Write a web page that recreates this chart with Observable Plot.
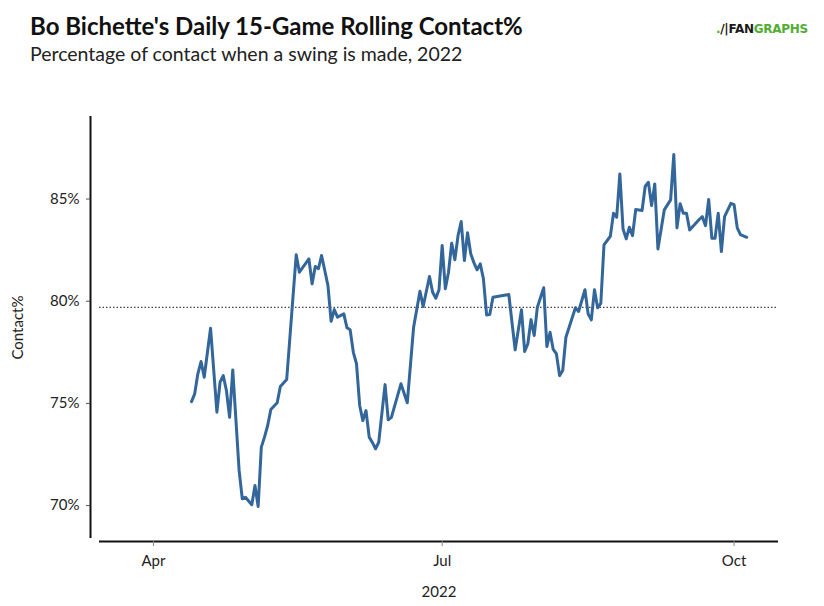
<!DOCTYPE html>
<html>
<head>
<meta charset="utf-8">
<script src="https://cdn.jsdelivr.net/npm/d3@7"></script>
<script src="https://cdn.jsdelivr.net/npm/@observablehq/plot@0.6"></script>
<style>
  body { margin: 0; background: #fff; font-family: Lato, sans-serif; }
  #wrap { position: relative; width: 824px; height: 606px; overflow: hidden; background: #fff; }
  #title { position: absolute; left: 30px; top: 12px; font-size: 24px; font-weight: 700; line-height: 1.2; color: #111; white-space: nowrap; }
  #subtitle { position: absolute; left: 30px; top: 42px; font-size: 19.5px; line-height: 1.2; color: #222; white-space: nowrap; }
  #logo { position: absolute; left: 716px; top: 22px; font-family: "DejaVu Sans", sans-serif; font-size: 12px; font-weight: 700; line-height: 1.2; white-space: nowrap; letter-spacing: -0.3px; }
  #logo .g { color: #52ae32; }
  #logo .k { color: #1a1a1a; }
  #chart { position: absolute; left: 0; top: 80px; }
</style>
</head>
<body>
<div id="wrap">
  <div id="title">Bo Bichette's Daily 15-Game Rolling Contact%</div>
  <div id="subtitle">Percentage of contact when a swing is made, 2022</div>
  <div id="logo"><span class="g">.</span><span class="k">/|</span><span class="k">FAN</span><span class="g">GRAPHS</span></div>
  <div id="chart"></div>
</div>
<script>
const dates = [
  "2022-04-13","2022-04-14","2022-04-15","2022-04-16","2022-04-17","2022-04-19","2022-04-21","2022-04-22","2022-04-23","2022-04-24",
  "2022-04-25","2022-04-26","2022-04-28","2022-04-29","2022-04-30","2022-05-02","2022-05-03","2022-05-04","2022-05-05","2022-05-06",
  "2022-05-07","2022-05-08","2022-05-10","2022-05-11","2022-05-13","2022-05-16","2022-05-17","2022-05-20","2022-05-21","2022-05-22",
  "2022-05-23","2022-05-24","2022-05-26","2022-05-27","2022-05-28","2022-05-29","2022-05-31","2022-06-01","2022-06-02","2022-06-03",
  "2022-06-04","2022-06-05","2022-06-06","2022-06-07","2022-06-08","2022-06-09","2022-06-10","2022-06-11","2022-06-13","2022-06-14",
  "2022-06-15","2022-06-18","2022-06-20","2022-06-22","2022-06-24","2022-06-25","2022-06-27","2022-06-28","2022-06-29","2022-06-30",
  "2022-07-01","2022-07-02","2022-07-03","2022-07-04","2022-07-05","2022-07-06","2022-07-07","2022-07-08","2022-07-09","2022-07-10",
  "2022-07-11","2022-07-12","2022-07-13","2022-07-14","2022-07-15","2022-07-16","2022-07-17","2022-07-22","2022-07-24","2022-07-26",
  "2022-07-27","2022-07-28","2022-07-29","2022-07-30","2022-07-31","2022-08-02","2022-08-03","2022-08-04","2022-08-05","2022-08-06",
  "2022-08-07","2022-08-08","2022-08-09","2022-08-12","2022-08-13","2022-08-15","2022-08-16","2022-08-17","2022-08-18","2022-08-19",
  "2022-08-20","2022-08-21","2022-08-23","2022-08-24","2022-08-25","2022-08-26","2022-08-27","2022-08-28","2022-08-29","2022-08-30",
  "2022-08-31","2022-09-02","2022-09-03","2022-09-04","2022-09-05","2022-09-06","2022-09-07","2022-09-09","2022-09-11","2022-09-12",
  "2022-09-13","2022-09-14","2022-09-15","2022-09-16","2022-09-17","2022-09-20","2022-09-21","2022-09-22","2022-09-23","2022-09-24",
  "2022-09-25","2022-09-26","2022-09-27","2022-09-28","2022-09-30","2022-10-01","2022-10-02","2022-10-03","2022-10-05"
];
const contact = [
  75.09, 75.47, 76.45, 77.05, 76.28, 78.68, 74.57, 76.04, 76.36, 75.63,
  74.32, 76.64, 71.72, 70.33, 70.41, 70.04, 70.98, 69.96, 72.86, 73.35,
  73.92, 74.70, 75.03, 75.83, 76.17, 82.28, 81.42, 82.07, 80.85, 81.70,
  81.59, 82.24, 80.77, 79.02, 79.59, 79.22, 79.38, 78.70, 78.60, 77.50,
  76.94, 74.90, 74.16, 74.65, 73.35, 73.09, 72.78, 73.10, 75.92, 74.20,
  74.32, 75.96, 75.03, 78.73, 80.49, 79.74, 81.21, 80.44, 80.15, 80.56,
  82.73, 80.61, 81.42, 82.84, 82.03, 83.21, 83.90, 81.99, 83.35, 82.32,
  81.89, 81.54, 81.83, 81.10, 79.33, 79.35, 80.20, 80.33, 77.62, 79.58,
  77.54, 77.92, 79.10, 78.32, 79.71, 80.66, 77.78, 78.48, 77.64, 77.43,
  76.36, 76.61, 78.24, 79.68, 79.50, 80.56, 79.38, 79.09, 80.56, 79.68,
  79.90, 82.76, 83.18, 84.31, 84.11, 86.23, 83.54, 83.05, 83.62, 83.21,
  84.49, 84.44, 85.63, 85.82, 84.68, 85.74, 82.56, 84.47, 84.96, 87.18,
  83.59, 84.77, 84.31, 84.31, 83.49, 84.00, 84.14, 83.70, 84.98, 83.08,
  83.08, 84.31, 82.43, 84.14, 84.79, 84.73, 83.59, 83.26, 83.13
];
const seasonAverage = 79.7;
const monthTicks = ["2022-04-01", "2022-07-01", "2022-10-01"];
const monthLabels = ["Apr", "Jul", "Oct"];
const yTicks = [70, 75, 80, 85];
const xDomain = ["2022-03-15", "2022-10-15"];
const yDomain = [68.39, 89.04];

const toDate = s => new Date(s + "T00:00:00Z");
const data = dates.map((d, i) => ({date: toDate(d), value: contact[i]}));
const tickDates = monthTicks.map(toDate);
const x0 = toDate(xDomain[0]);

const chart = Plot.plot({
  width: 824,
  height: 526,
  marginLeft: 99,
  marginRight: 46,
  marginTop: 36,
  marginBottom: 68,
  style: {fontFamily: "Lato, sans-serif", fontSize: "15px", color: "#222", background: "white", overflow: "visible"},
  x: {type: "utc", domain: xDomain.map(toDate)},
  y: {domain: yDomain},
  marks: [
    Plot.ruleY([seasonAverage], {stroke: "#444", strokeWidth: 1.2, strokeDasharray: "1.5,2"}),
    Plot.lineY(data, {x: "date", y: "value", stroke: "#33669a", strokeWidth: 3, strokeLinejoin: "round", strokeLinecap: "round"}),
    Plot.ruleX([x0], {dx: -9, stroke: "#111", strokeWidth: 2}),
    Plot.ruleY([yDomain[0]], {dy: 3, stroke: "#111", strokeWidth: 2}),
    Plot.axisX(tickDates, {
      tickFormat: d => monthLabels[tickDates.findIndex(t => +t === +d)],
      dy: 3, tickSize: 5, tickPadding: 9, stroke: "#888", fill: "#222",
      label: "2022", labelAnchor: "center", labelArrow: "none", labelOffset: 58
    }),
    Plot.axisY(yTicks, {
      tickFormat: d => d + "%",
      dx: -9, tickSize: 4, tickPadding: 7, stroke: "#555", fill: "#222",
      label: "Contact%", labelAnchor: "center", labelArrow: "none", labelOffset: 87
    })
  ]
});
document.getElementById("chart").appendChild(chart);
</script>
</body>
</html>
